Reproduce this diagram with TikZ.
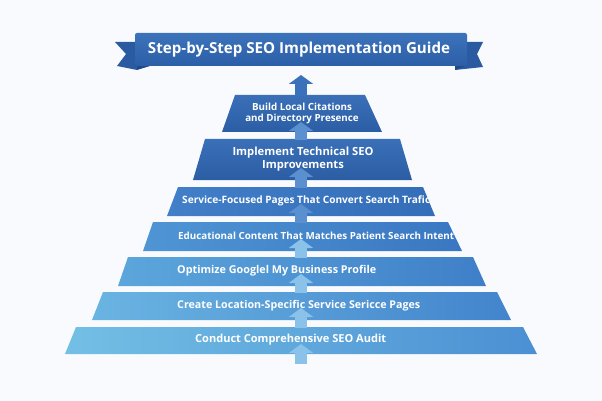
\documentclass[tikz,border=0pt]{standalone}
\usepackage{fontspec}
\setmainfont{Open Sans}
\usetikzlibrary{positioning,arrows.meta}
\definecolor{bgwhite}{HTML}{F9FAFD}
\definecolor{bannertop}{HTML}{3C73BB}
\definecolor{bannerbot}{HTML}{2B5EA6}
\definecolor{tailblue}{HTML}{2A5A9F}
\definecolor{folddark}{HTML}{1F4A88}
\definecolor{darktop}{HTML}{3A70B8}
\definecolor{darkbot}{HTML}{2B5DA4}
\definecolor{threeL}{HTML}{427FC9}
\definecolor{threeR}{HTML}{346DB8}
\definecolor{fourL}{HTML}{4F95D4}
\definecolor{fourR}{HTML}{3A77C2}
\definecolor{fiveL}{HTML}{5CA6DC}
\definecolor{fiveR}{HTML}{3F7FC8}
\definecolor{sixL}{HTML}{6AB4E2}
\definecolor{sixR}{HTML}{4384CC}
\definecolor{sevenL}{HTML}{73BFE5}
\definecolor{sevenR}{HTML}{4B90D3}
\definecolor{arrowdark}{HTML}{3A71BA}
\definecolor{arrowmid}{HTML}{5A90D0}
\definecolor{arrowlight}{HTML}{8AC2EA}
\newcommand{\fitto}[2]{\resizebox{#1pt}{!}{#2}}
\tikzset{
  label text/.style={text=white, inner sep=0pt, font=\bfseries\fontsize{10.5}{13}\selectfont},
  uparrow/.style={line width=12pt, -{Triangle[width=24pt,length=9pt]}},
}
\begin{document}
\begin{tikzpicture}[x=1pt,y=-1pt]
\useasboundingbox[fill=bgwhite] (0,0) rectangle (602,401);

% title banner
\fill[tailblue] (137,42)--(115,42)--(126,54)--(117,66)--(137,70)--cycle;
\fill[tailblue] (465,42)--(483,42)--(477,54)--(483,67)--(455,70)--cycle;
\fill[folddark] (137,66)--(150,66)--(137,70)--cycle;
\fill[folddark] (465,66)--(455,66)--(455,70)--cycle;
\shade[top color=bannertop, bottom color=bannerbot, rounded corners=2pt] (135,33) rectangle (467,66);
\node[label text] (title) at (299,49.5) {\fitto{302}{Step-by-Step SEO Implementation Guide}};

% steps, top to bottom
\shade[top color=darktop, bottom color=darkbot] (235,95)--(365,95)--(382,132)--(222,132)--cycle;
\shade[top color=darktop, bottom color=darkbot] (205,139)--(400,139)--(412,180)--(193,180)--cycle;
\shade[left color=threeL, right color=threeR] (178,187)--(423,187)--(435,216)--(167,216)--cycle;
\shade[left color=fourL, right color=fourR] (153,222)--(448,222)--(462,251)--(143,251)--cycle;
\shade[left color=fiveL, right color=fiveR] (128,257)--(473,257)--(486,286)--(118,286)--cycle;
\shade[left color=sixL, right color=sixR] (103,292)--(497,292)--(511,320)--(92,320)--cycle;
\shade[left color=sevenL, right color=sevenR] (76,327)--(523,327)--(537,354)--(65,354)--cycle;

% arrow ends
\coordinate (base) at (301,364);
\coordinate (tip7) at (301,344);
\coordinate (top7) at (301,328);
\coordinate (tip6) at (301,308);
\coordinate (top6) at (301,293);
\coordinate (tip5) at (301,274);
\coordinate (top5) at (301,258);
\coordinate (tip4) at (301,239);
\coordinate (top4) at (301,223);
\coordinate (tip3) at (301,204);
\coordinate (top3) at (301,188);
\coordinate (tip2) at (301,168);
\coordinate (top2) at (301,140);
\coordinate (tip1) at (301,122);
\coordinate (top1) at (301,96);
\coordinate (tip0) at (301,75);

\draw[uparrow, arrowlight] (base) -- (tip7);
\draw[uparrow, arrowlight] (top7) -- (tip6);
\draw[uparrow, arrowlight] (top6) -- (tip5);
\draw[uparrow, arrowlight] (top5) -- (tip4);
\draw[uparrow, arrowmid] (top4) -- (tip3);
\draw[uparrow, arrowmid] (top3) -- (tip2);
\draw[uparrow, arrowmid] (top2) -- (tip1);
\draw[uparrow, arrowdark] (top1) -- (tip0);

% labels
\node[label text, align=center, font=\bfseries\fontsize{9.8}{11.5}\selectfont] (build) at (302,113.5) {Build Local Citations\\and Directory Presence};
\node[label text, align=center, font=\bfseries\fontsize{11.2}{13}\selectfont] (tech) at (303,159.5) {Implement Technical SEO\\Improvements};
\node[label text, anchor=west] (service) at (182,200.5) {\fitto{248}{Service-Focused Pages That Convert Search Trafic}};
\node[label text, anchor=west] (content) at (178,236) {\fitto{276}{Educational Content That Matches Patient Search Intent}};
\node[label text, anchor=west] (google) at (177,271) {\fitto{199}{Optimize Googlel My Business Profile}};
\node[label text, anchor=west] (location) at (177,305.5) {\fitto{243}{Create Location-Specific Service Sericce Pages}};
\node[label text, anchor=west] (audit) at (195,340) {\fitto{191}{Conduct Comprehensive SEO Audit}};
\end{tikzpicture}
\end{document}
